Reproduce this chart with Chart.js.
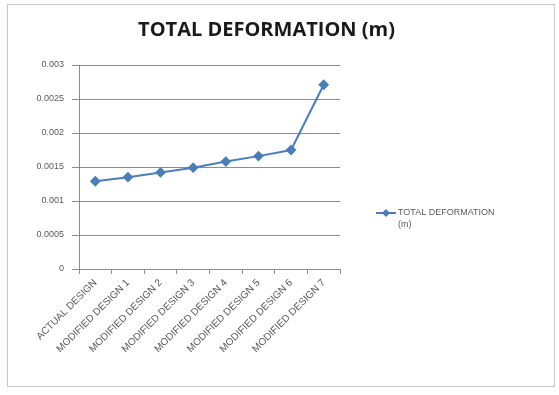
<!DOCTYPE html>
<html>
<head>
    <title>Total Deformation</title>
    <script src="https://cdn.jsdelivr.net/npm/chart.js"></script>
    <style>
        body { margin: 0; background: #fff; font-family: "Liberation Sans", Arial, sans-serif; }
        .wrap { position: relative; width: 559px; height: 395px; }
        .frame {
            position: absolute; left: 7px; top: 4px; width: 548px; height: 383px;
            border: 1px solid #c8c8c8; box-sizing: border-box;
        }
        canvas { position: absolute; left: 0; top: 0; }
    </style>
</head>
<body>
    <div class="wrap">
        <div class="frame"></div>
        <canvas id="deformChart" width="559" height="395"></canvas>
    </div>

    <script>
        const designs = [
            'ACTUAL DESIGN', 'MODIFIED DESIGN 1', 'MODIFIED DESIGN 2', 'MODIFIED DESIGN 3',
            'MODIFIED DESIGN 4', 'MODIFIED DESIGN 5', 'MODIFIED DESIGN 6', 'MODIFIED DESIGN 7'
        ];
        const deformation = [0.00129, 0.00135, 0.00142, 0.00149, 0.00158, 0.00166, 0.00175, 0.00271];
        const yTicks = [0, 0.0005, 0.001, 0.0015, 0.002, 0.0025, 0.003];
        const seriesName = 'TOTAL DEFORMATION (m)';

        const lineBlue = '#4a7ebb';
        const gridGray = '#8c8c8c';
        const textGray = '#595959';

        // legend on the right, drawn by hand so the label can wrap like Excel's
        const sideLegend = {
            id: 'sideLegend',
            afterDraw(chart) {
                const ctx = chart.ctx;
                const area = chart.chartArea;
                const ds = chart.data.datasets[0];
                const x = area.right + 36;
                const y = (area.top + area.bottom) / 2 + 46;
                ctx.save();
                ctx.strokeStyle = ds.borderColor;
                ctx.lineWidth = 2;
                ctx.beginPath();
                ctx.moveTo(x, y);
                ctx.lineTo(x + 20, y);
                ctx.stroke();
                ctx.fillStyle = ds.borderColor;
                ctx.beginPath();
                ctx.moveTo(x + 10, y - 4);
                ctx.lineTo(x + 14, y);
                ctx.lineTo(x + 10, y + 4);
                ctx.lineTo(x + 6, y);
                ctx.closePath();
                ctx.fill();
                ctx.fillStyle = textGray;
                ctx.font = '9px "Liberation Sans", Arial, sans-serif';
                ctx.textBaseline = 'middle';
                ctx.fillText('TOTAL DEFORMATION', x + 22, y);
                ctx.fillText('(m)', x + 22, y + 12);
                ctx.restore();
            }
        };

        new Chart(document.getElementById('deformChart'), {
            type: 'line',
            data: {
                labels: designs,
                datasets: [{
                    label: seriesName,
                    data: deformation,
                    borderColor: lineBlue,
                    backgroundColor: lineBlue,
                    borderWidth: 2,
                    pointStyle: 'rectRot',
                    pointRadius: 4,
                    pointBackgroundColor: lineBlue,
                    pointBorderColor: lineBlue,
                    tension: 0
                }]
            },
            options: {
                responsive: false,
                animation: false,
                layout: { padding: { left: 0, right: 26, top: 0, bottom: 0 } },
                plugins: {
                    legend: { display: false },
                    tooltip: { enabled: false },
                    title: {
                        display: true,
                        text: seriesName,
                        color: '#1a1a1a',
                        font: { family: '"Open Sans", Arial, sans-serif', size: 20, weight: 'bold' },
                        padding: { top: 18, bottom: 23 }
                    }
                },
                scales: {
                    y: {
                        min: 0,
                        max: 0.003,
                        afterBuildTicks: (s) => { s.ticks = yTicks.map(v => ({ value: v })); },
                        afterFit: (s) => { s.width = 79; },
                        border: { color: gridGray },
                        grid: { color: gridGray, tickLength: 7 },
                        ticks: {
                            color: textGray,
                            padding: 8,
                            font: { family: '"Liberation Sans", Arial, sans-serif', size: 9 },
                            callback: (v) => String(+Number(v).toFixed(4))
                        }
                    },
                    // empty right-hand axis that only reserves room for the legend
                    side: {
                        position: 'right',
                        afterFit: (s) => { s.width = 193; },
                        border: { display: false },
                        grid: { display: false },
                        ticks: { display: false }
                    },
                    x: {
                        offset: true,
                        afterFit: (s) => { s.height = 126; },
                        border: { color: gridGray },
                        grid: { drawOnChartArea: false, offset: true, color: gridGray, tickLength: 5 },
                        ticks: {
                            color: textGray,
                            minRotation: 45,
                            maxRotation: 45,
                            autoSkip: false,
                            font: { family: '"Liberation Sans", Arial, sans-serif', size: 10 }
                        }
                    }
                }
            },
            plugins: [sideLegend]
        });
    </script>
</body>
</html>
